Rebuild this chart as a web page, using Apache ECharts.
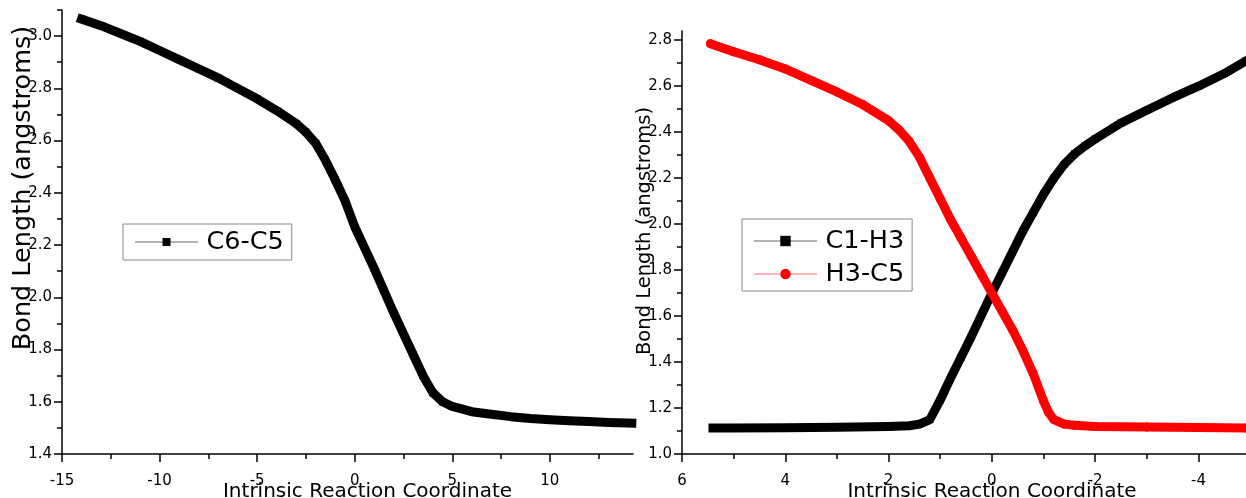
<!DOCTYPE html>
<html>
<head>
<meta charset="utf-8">
<script src="https://cdn.jsdelivr.net/npm/echarts@6/dist/echarts.min.js"></script>
<style>html,body{margin:0;padding:0;background:#fff}#c{width:1246px;height:498px}</style>
</head>
<body>
<div id="c"></div>
<script>
// ---- data ----
const leftX = [-14, -13, -12, -11, -10, -9, -8, -7, -6, -5, -4, -3, -2.5, -2, -1.5, -1, -0.5, 0, 0.5, 1, 1.5, 2, 2.5, 3, 3.5, 4, 4.5, 5, 6, 7, 8, 9, 10, 11, 12, 13, 14.2];
const c6c5 = [3.065, 3.04, 3.01, 2.98, 2.945, 2.91, 2.875, 2.84, 2.80, 2.76, 2.715, 2.665, 2.632, 2.59, 2.525, 2.45, 2.37, 2.27, 2.19, 2.11, 2.025, 1.94, 1.86, 1.78, 1.70, 1.635, 1.60, 1.582, 1.562, 1.552, 1.543, 1.536, 1.531, 1.527, 1.524, 1.521, 1.518];

const c1h3X = [5.4, 5, 4, 3, 2, 1.6, 1.4, 1.2, 1.0, 0.8, 0.6, 0.4, 0.2, 0, -0.2, -0.4, -0.6, -0.8, -1.0, -1.2, -1.4, -1.6, -1.8, -2.0, -2.5, -3.0, -3.5, -4.0, -4.5, -4.92];
const c1h3 = [1.113, 1.113, 1.114, 1.116, 1.12, 1.123, 1.13, 1.15, 1.235, 1.33, 1.42, 1.51, 1.605, 1.70, 1.79, 1.88, 1.97, 2.05, 2.13, 2.2, 2.26, 2.305, 2.34, 2.37, 2.44, 2.495, 2.55, 2.60, 2.655, 2.71];

const h3c5X = [5.45, 5, 4.5, 4, 3.5, 3, 2.5, 2, 1.8, 1.6, 1.4, 1.2, 1.0, 0.8, 0.6, 0.4, 0.2, 0, -0.2, -0.4, -0.6, -0.8, -1.0, -1.1, -1.2, -1.4, -1.6, -2, -3, -4, -4.92];
const h3c5 = [2.785, 2.75, 2.715, 2.675, 2.625, 2.575, 2.52, 2.45, 2.41, 2.36, 2.29, 2.2, 2.11, 2.02, 1.94, 1.86, 1.78, 1.70, 1.62, 1.54, 1.45, 1.35, 1.23, 1.18, 1.15, 1.13, 1.125, 1.12, 1.117, 1.115, 1.113];

const leftXMajor = [-15, -10, -5, 0, 5, 10];
const leftXMinor = [-12.5, -7.5, -2.5, 2.5, 7.5, 12.5];
const leftYMajor = [1.4, 1.6, 1.8, 2.0, 2.2, 2.4, 2.6, 2.8, 3.0];
const leftYMinor = [1.5, 1.7, 1.9, 2.1, 2.3, 2.5, 2.7, 2.9, 3.1];
const rightXMajor = [6, 4, 2, 0, -2, -4];
const rightXMinor = [5, 3, 1, -1, -3];
const rightYMajor = [1.0, 1.2, 1.4, 1.6, 1.8, 2.0, 2.2, 2.4, 2.6, 2.8];
const rightYMinor = [1.1, 1.3, 1.5, 1.7, 1.9, 2.1, 2.3, 2.5, 2.7];

const xTitle = 'Intrinsic Reaction Coordinate';
const yTitle = 'Bond Length (angstroms)';

// ---- chart ----
const FONT = 'DejaVu Sans';
const zip = (xs, ys) => xs.map((x, i) => [x, ys[i]]);
const tickLine = {color: '#000', width: 1.5};

function majorX(grid, min, max, ticks, inverse, name, pad) {
  return {
    type: 'value', gridIndex: grid, min, max, inverse, position: 'bottom',
    axisLine: {show: true, onZero: false, lineStyle: {color: '#000', width: 1.5}}, splitLine: {show: false},
    axisTick: {show: true, inside: false, length: 8, lineStyle: tickLine, customValues: ticks},
    axisLabel: {customValues: ticks, color: '#000', fontFamily: FONT, fontSize: 15, margin: 20, formatter: v => String(v)},
    name, nameLocation: 'middle', nameGap: 28, nameMoveOverlap: false,
    nameTextStyle: {color: '#000', fontFamily: FONT, fontSize: 20, padding: pad}
  };
}
function minorX(grid, min, max, ticks, inverse) {
  return {
    type: 'value', gridIndex: grid, min, max, inverse, position: 'bottom',
    axisLine: {show: false, onZero: false}, splitLine: {show: false}, axisLabel: {show: false},
    axisTick: {show: true, length: 5, lineStyle: tickLine, customValues: ticks}
  };
}
function majorY(grid, min, max, ticks, nameSize, nameGap, pad) {
  return {
    type: 'value', gridIndex: grid, min, max, position: 'left',
    axisLine: {show: true, onZero: false, lineStyle: {color: '#000', width: 1.5}}, splitLine: {show: false},
    axisTick: {show: true, length: 8, lineStyle: tickLine, customValues: ticks},
    axisLabel: {customValues: ticks, color: '#000', fontFamily: FONT, fontSize: 15, margin: 10, formatter: v => v.toFixed(1)},
    name: yTitle, nameLocation: 'middle', nameGap, nameMoveOverlap: false,
    nameTextStyle: {color: '#000', fontFamily: FONT, fontSize: nameSize, padding: pad}
  };
}
function minorY(grid, min, max, ticks) {
  return {
    type: 'value', gridIndex: grid, min, max, position: 'left',
    axisLine: {show: false, onZero: false}, splitLine: {show: false}, axisLabel: {show: false},
    axisTick: {show: true, length: 5, lineStyle: tickLine, customValues: ticks}
  };
}

const legendBase = {
  orient: 'vertical', itemWidth: 62, borderColor: '#888', borderWidth: 1,
  textStyle: {color: '#000', fontFamily: FONT, fontSize: 25.5, lineHeight: 24, padding: [0, 0, 0, 4]},
  lineStyle: {width: 1, opacity: 0.6}
};

const option = {
  animation: false,
  backgroundColor: '#fff',
  grid: [
    {left: 62, right: 613, top: 10, bottom: 44, outerBoundsMode: 'none', containLabel: false},
    {left: 682, right: 0, top: 31, bottom: 44, outerBoundsMode: 'none', containLabel: false}
  ],
  legend: [
    Object.assign({}, legendBase, {data: ['C6-C5'], left: 123, top: 224, itemHeight: 10, padding: [5, 8, 5, 12]}),
    Object.assign({}, legendBase, {data: ['C1-H3', 'H3-C5'], left: 742, top: 219, itemHeight: 13, itemGap: 7, padding: [9, 8, 4, 12]})
  ],
  xAxis: [
    majorX(0, -15, 14.26, leftXMajor, false, xTitle, [0, 0, 0, 40]),
    minorX(0, -15, 14.26, leftXMinor, false),
    majorX(1, -4.92, 6, rightXMajor, true, xTitle, [0, 0, 0, 56]),
    minorX(1, -4.92, 6, rightXMinor, true)
  ],
  yAxis: [
    majorY(0, 1.4, 3.1, leftYMajor, 25.5, 26, [0, 0, 0, 88]),
    minorY(0, 1.4, 3.1, leftYMinor),
    majorY(1, 1.0, 2.84, rightYMajor, 19.5, 27, [0, 0, 0, 23]),
    minorY(1, 1.0, 2.84, rightYMinor)
  ],
  series: [
    {name: 'C6-C5', type: 'line', xAxisIndex: 0, yAxisIndex: 0, data: zip(leftX, c6c5),
     symbol: 'rect', symbolSize: 7, showSymbol: true, itemStyle: {color: '#000'},
     lineStyle: {color: '#000', width: 9, join: 'round', cap: 'square'}},
    {name: 'C1-H3', type: 'line', xAxisIndex: 2, yAxisIndex: 2, data: zip(c1h3X, c1h3),
     symbol: 'rect', symbolSize: 7, showSymbol: true, itemStyle: {color: '#000'},
     lineStyle: {color: '#000', width: 9, join: 'round', cap: 'square'}},
    {name: 'H3-C5', type: 'line', xAxisIndex: 2, yAxisIndex: 2, data: zip(h3c5X, h3c5),
     symbol: 'circle', symbolSize: 9, showSymbol: true, itemStyle: {color: '#ff0000'},
     lineStyle: {color: '#ff0000', width: 9, join: 'round', cap: 'round'}}
  ]
};
const chart = echarts.init(document.getElementById('c'), null, {renderer: 'canvas'});
chart.setOption(option);
</script>
</body>
</html>
